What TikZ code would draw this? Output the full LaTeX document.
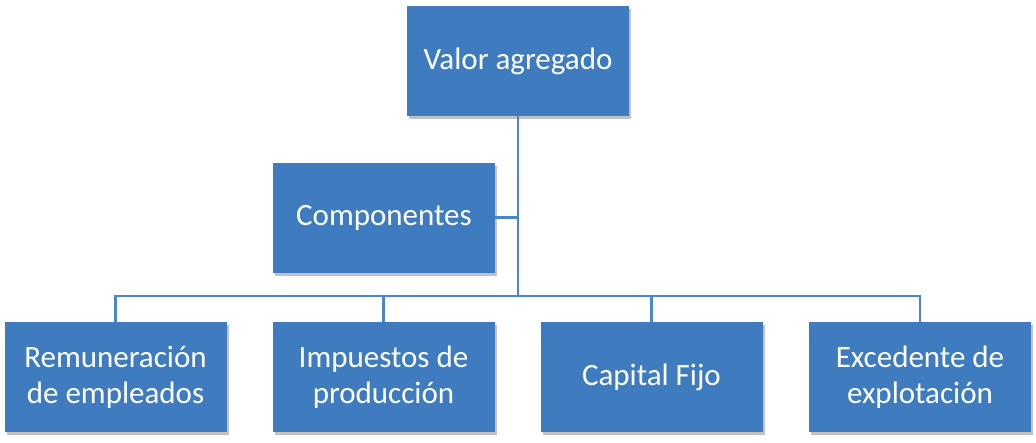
\documentclass[tikz,border=0pt]{standalone}
\usepackage{fontspec}
\setmainfont{Carlito}
\usetikzlibrary{shadows}
\definecolor{boxblue}{HTML}{3F7CBF}
\definecolor{lineblue}{HTML}{4A86C8}
\tikzset{
  box/.style={fill=boxblue, draw=none, text=white, minimum width=222pt, minimum height=110pt,
    inner sep=2pt, align=center, font=\fontsize{31}{36}\selectfont,
    drop shadow={opacity=0.35, shadow xshift=2pt, shadow yshift=-3pt, fill=black!70}},
  conn/.style={draw=lineblue, line width=2.2pt}
}
\begin{document}
\begin{tikzpicture}[x=1pt,y=1pt]
\useasboundingbox (0,0) rectangle (1036,-442);
\node[box] (top) at (518,-61) {Valor agregado};
\node[box] (comp) at (384,-217.5) {Componentes};
\node[box] (b1) at (115.5,-377) {Remuneración\\de empleados};
\node[box] (b2) at (383.5,-377) {Impuestos de\\producción};
\node[box] (b3) at (651.5,-377) {Capital Fijo};
\node[box] (b4) at (920,-377) {Excedente de\\explotación};
\coordinate (hub) at (518,-296);
\draw[conn] (top.south) -- (hub);
\draw[conn] (comp.east) -- (comp.east -| top.south);
\draw[conn] (hub) -| (b1.north);
\draw[conn] (hub) -| (b2.north);
\draw[conn] (hub) -| (b3.north);
\draw[conn] (hub) -| (b4.north);
\end{tikzpicture}
\end{document}
